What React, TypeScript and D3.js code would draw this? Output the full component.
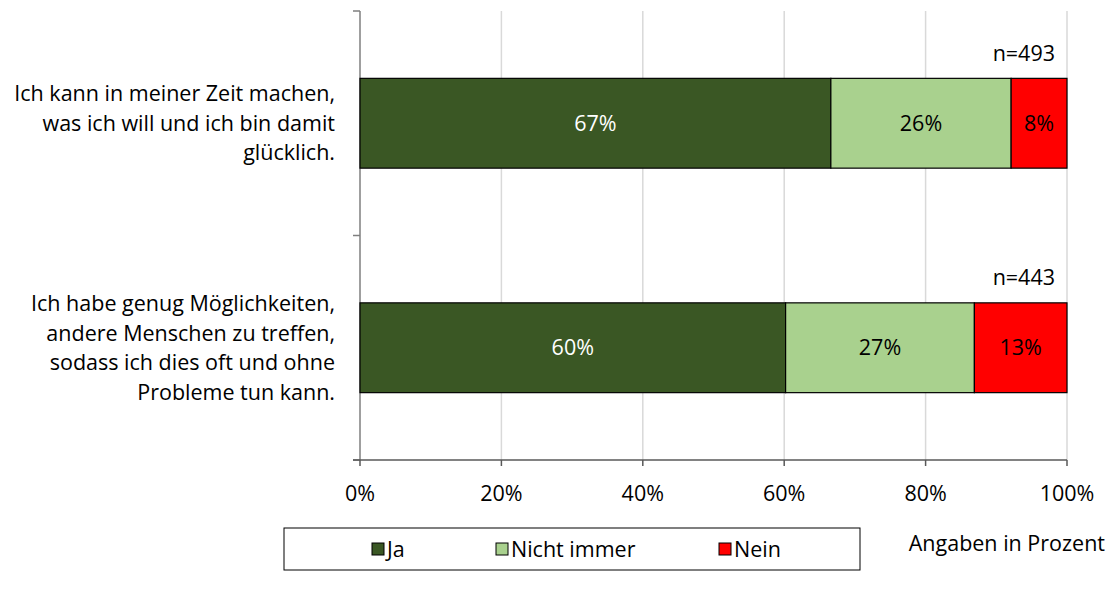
import React from "react";
import * as d3 from "d3";

const categories = [
  ["Ich kann in meiner Zeit machen,", "was ich will und ich bin damit", "glücklich."],
  ["Ich habe genug Möglichkeiten,", "andere Menschen zu treffen,", "sodass ich dies oft und ohne", "Probleme tun kann."],
];
const nLabels = ["n=493", "n=443"];
const seriesNames = ["Ja", "Nicht immer", "Nein"];
const jaValues = [66.6, 60.2];
const nichtImmerValues = [25.5, 26.7];
const neinValues = [7.9, 13.1];
const valueLabels = [
  ["67%", "26%", "8%"],
  ["60%", "27%", "13%"],
];
const xTicks = [0, 20, 40, 60, 80, 100];
const colors = ["#3a5724", "#a9d18e", "#ff0000"];
const labelColors = ["#ffffff", "#000000", "#000000"];

const W = 1113;
const H = 592;
const FONT = "'Open Sans', sans-serif";
const FS = 21.5;

export default function App() {
  const x = d3.scaleLinear().domain([0, 100]).range([360, 1067]);
  const y = d3
    .scaleBand<number>()
    .domain([0, 1])
    .range([11, 460])
    .paddingInner(0.6)
    .paddingOuter(0.3);
  const step = y.step();
  const series = [jaValues, nichtImmerValues, neinValues];
  const stacked = d3
    .stack<number>()
    .keys(["0", "1", "2"])
    .value((i, k) => series[+k][i])([0, 1]);

  const legendX = [372, 496, 719];

  return (
    <svg width={W} height={H} style={{ position: "absolute", left: 0, top: 0, background: "#fff" }} fontFamily={FONT}>
      {/* gridlines */}
      {xTicks.slice(1).map((t) => (
        <line key={t} x1={x(t)} x2={x(t)} y1={11} y2={460} stroke="#d9d9d9" strokeWidth={1.5} />
      ))}
      {/* y axis */}
      <line x1={360} x2={360} y1={11} y2={460} stroke="#7f7f7f" strokeWidth={1.5} />
      {[0, 1, 2].map((i) => (
        <line key={i} x1={353} x2={360} y1={11 + i * step} y2={11 + i * step} stroke="#7f7f7f" strokeWidth={1.5} />
      ))}
      {/* bars */}
      {stacked.map((s, si) =>
        s.map((d, ci) => (
          <g key={`${si}-${ci}`}>
            <rect
              x={x(d[0])}
              y={y(ci)!}
              width={x(d[1]) - x(d[0])}
              height={y.bandwidth()}
              fill={colors[si]}
              stroke="#000"
              strokeWidth={1.2}
            />
            <text
              x={(x(d[0]) + x(d[1])) / 2}
              y={y(ci)! + y.bandwidth() / 2}
              dy="0.35em"
              textAnchor="middle"
              fontSize={FS}
              fill={labelColors[si]}
            >
              {valueLabels[ci][si]}
            </text>
          </g>
        ))
      )}
      {/* x axis */}
      <line x1={353} x2={1067} y1={460} y2={460} stroke="#595959" strokeWidth={1.5} />
      {xTicks.map((t) => (
        <g key={t}>
          <line x1={x(t)} x2={x(t)} y1={460} y2={466} stroke="#595959" strokeWidth={1.5} />
          <text x={x(t)} y={493} dy="0.35em" textAnchor="middle" fontSize={FS} fill="#000">
            {t}%
          </text>
        </g>
      ))}
      {/* n labels */}
      {nLabels.map((n, i) => (
        <text key={n} x={1055} y={y(i)! - 25} dy="0.35em" textAnchor="end" fontSize={FS} fill="#000">
          {n}
        </text>
      ))}
      {/* category labels */}
      {categories.map((lines, i) => {
        const cy = y(i)! + y.bandwidth() / 2;
        const lh = 29.5;
        return lines.map((l, j) => (
          <text
            key={`${i}-${j}`}
            x={335}
            y={cy + (j - (lines.length - 1) / 2) * lh}
            dy="0.35em"
            textAnchor="end"
            fontSize={FS}
            fill="#000"
          >
            {l}
          </text>
        ));
      })}
      <text x={1105} y={543} dy="0.35em" textAnchor="end" fontSize={FS} fill="#000">
        Angaben in Prozent
      </text>
      {/* legend */}
      <rect x={284} y={528} width={576} height={42} fill="#fff" stroke="#000" strokeWidth={1} />
      {seriesNames.map((s, i) => (
        <g key={s}>
          <rect x={legendX[i]} y={543} width={12} height={12} fill={colors[i]} stroke="#000" strokeWidth={1} />
          <text x={legendX[i] + 15} y={549} dy="0.35em" fontSize={FS} fill="#000">
            {s}
          </text>
        </g>
      ))}
    </svg>
  );
}
